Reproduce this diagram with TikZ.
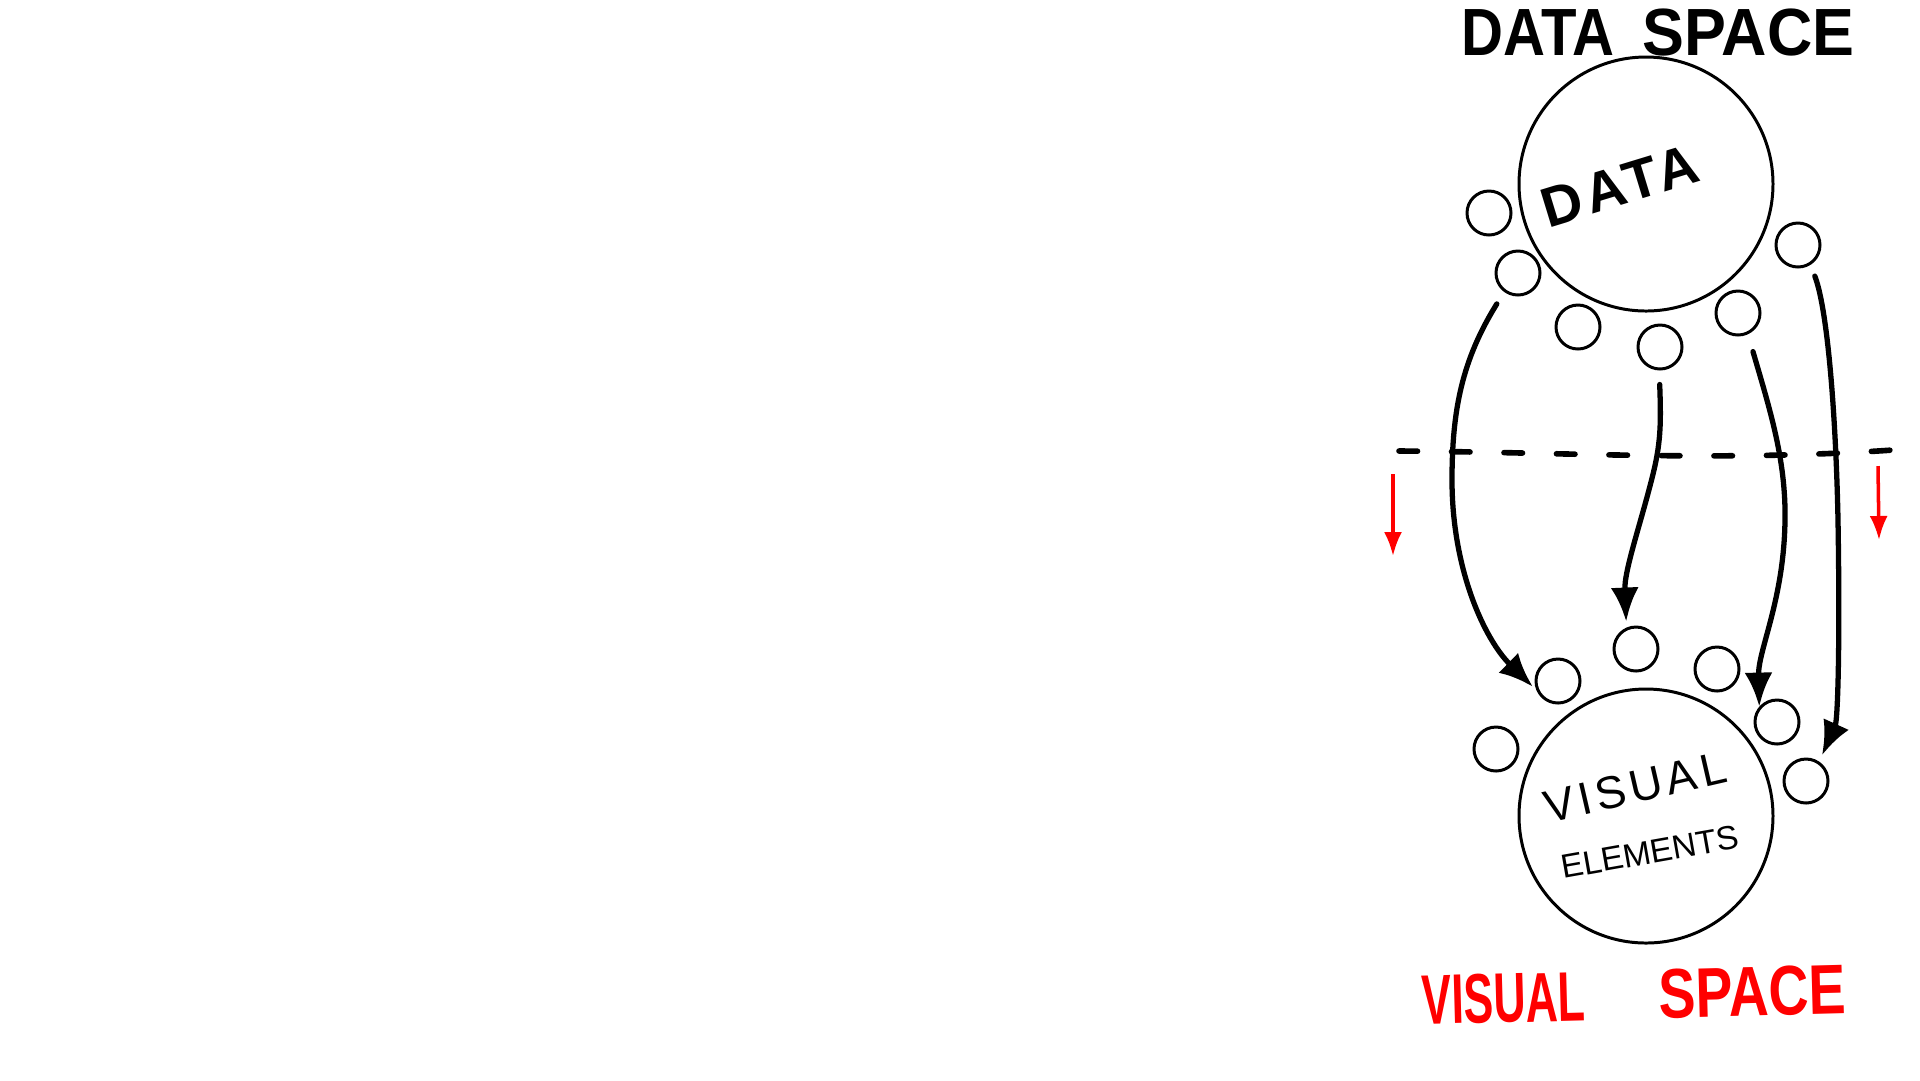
\documentclass[tikz,border=0pt]{standalone}
\usepackage{fontspec}
\usepackage{graphicx}
\setmainfont{Liberation Sans}
\usetikzlibrary{arrows.meta}
\begin{document}
\begin{tikzpicture}[x=0.1mm,y=-0.1mm,
  small/.style={circle,draw,line width=0.85pt,minimum size=4.4mm,inner sep=0pt},
  big/.style={circle,draw,line width=0.85pt,minimum size=25.4mm,inner sep=0pt},
  flow/.style={line width=1.5pt,line cap=round,-{Latex[length=3.4mm,width=2.8mm]}},
  redarrow/.style={red,line width=1pt,-{Latex[length=2.4mm,width=1.8mm]}},
  sep/.style={line width=1.6pt,line cap=round,dash pattern=on 1.85mm off 3.4mm}]
\fill[white] (0,0) rectangle (1920,1080);
\useasboundingbox (0,0) rectangle (1920,1080);

% titles
\node[font=\bfseries\fontsize{19}{22}\selectfont] (title) at (1658,32) {\scalebox{0.87}[1]{DATA}\hspace{8pt}\scalebox{0.94}[1]{SPACE}};
\node[red,font=\bfseries\fontsize{20}{24}\selectfont,rotate=1.5] (vtitle) at (1634,995) {\scalebox{0.635}[1]{VISUAL}\hspace{21pt}\scalebox{0.79}[1]{SPACE}};

% data space
\node[big] (data) at (1646,184) {};
\node[font=\bfseries\fontsize{16}{20}\selectfont\addfontfeature{LetterSpace=8},rotate=17] (datalbl) at (1620,186) {DATA};
\node[small] (c1) at (1489,213) {};
\node[small] (c2) at (1518,273) {};
\node[small] (c3) at (1578,327) {};
\node[small] (c4) at (1660,347) {};
\node[small] (c5) at (1738,313) {};
\node[small] (c6) at (1798,245) {};

% visual space
\node[big] (vis) at (1646,816) {};
\node[font=\fontsize{13}{16}\selectfont\addfontfeature{LetterSpace=10},rotate=13] (vislbl) at (1635,787) {VISUAL};
\node[font=\fontsize{9.5}{11}\selectfont,rotate=10] (ellbl) at (1650,852) {ELEMENTS};
\node[small] (d1) at (1558,681) {};
\node[small] (d2) at (1636,649) {};
\node[small] (d3) at (1717,669) {};
\node[small] (d4) at (1777,722) {};
\node[small] (d5) at (1806,781) {};
\node[small] (d6) at (1496,749) {};

% separator
\coordinate (dl) at (1399,451);
\coordinate (dr) at (1893,450);
\draw[sep] (dl) .. controls (1560,452) and (1720,462) .. (dr);

% red arrows
\coordinate (r1s) at (1393,474);
\coordinate (r1e) at (1393,556);
\coordinate (r2s) at (1878,466);
\coordinate (r2e) at (1879,540);
\draw[redarrow] (r1s) -- (r1e);
\draw[redarrow] (r2s) -- (r2e);

% mapping arrows
\draw[flow,shorten <=1.4mm,shorten >=0.5mm] (c2.234) .. controls (1462,360) and (1452,410) .. (1452,480) .. controls (1452,570) and (1485,640) .. (d1.203);
\draw[flow,shorten <=1.4mm,shorten >=0.6mm] (c4.268) .. controls (1661,420) and (1661,440) .. (1654,470) .. controls (1642,520) and (1624,570) .. (d2.114);
\draw[flow,shorten <=1.8mm] (c5.295) .. controls (1770,410) and (1786,460) .. (1785,520) .. controls (1784,600) and (1758,650) .. (d4.139);
\draw[flow,shorten <=1.2mm,shorten >=0.7mm] (c6.302) .. controls (1828,310) and (1836,420) .. (1838,520) .. controls (1840,640) and (1838,720) .. (d5.56);
\end{tikzpicture}
\end{document}
